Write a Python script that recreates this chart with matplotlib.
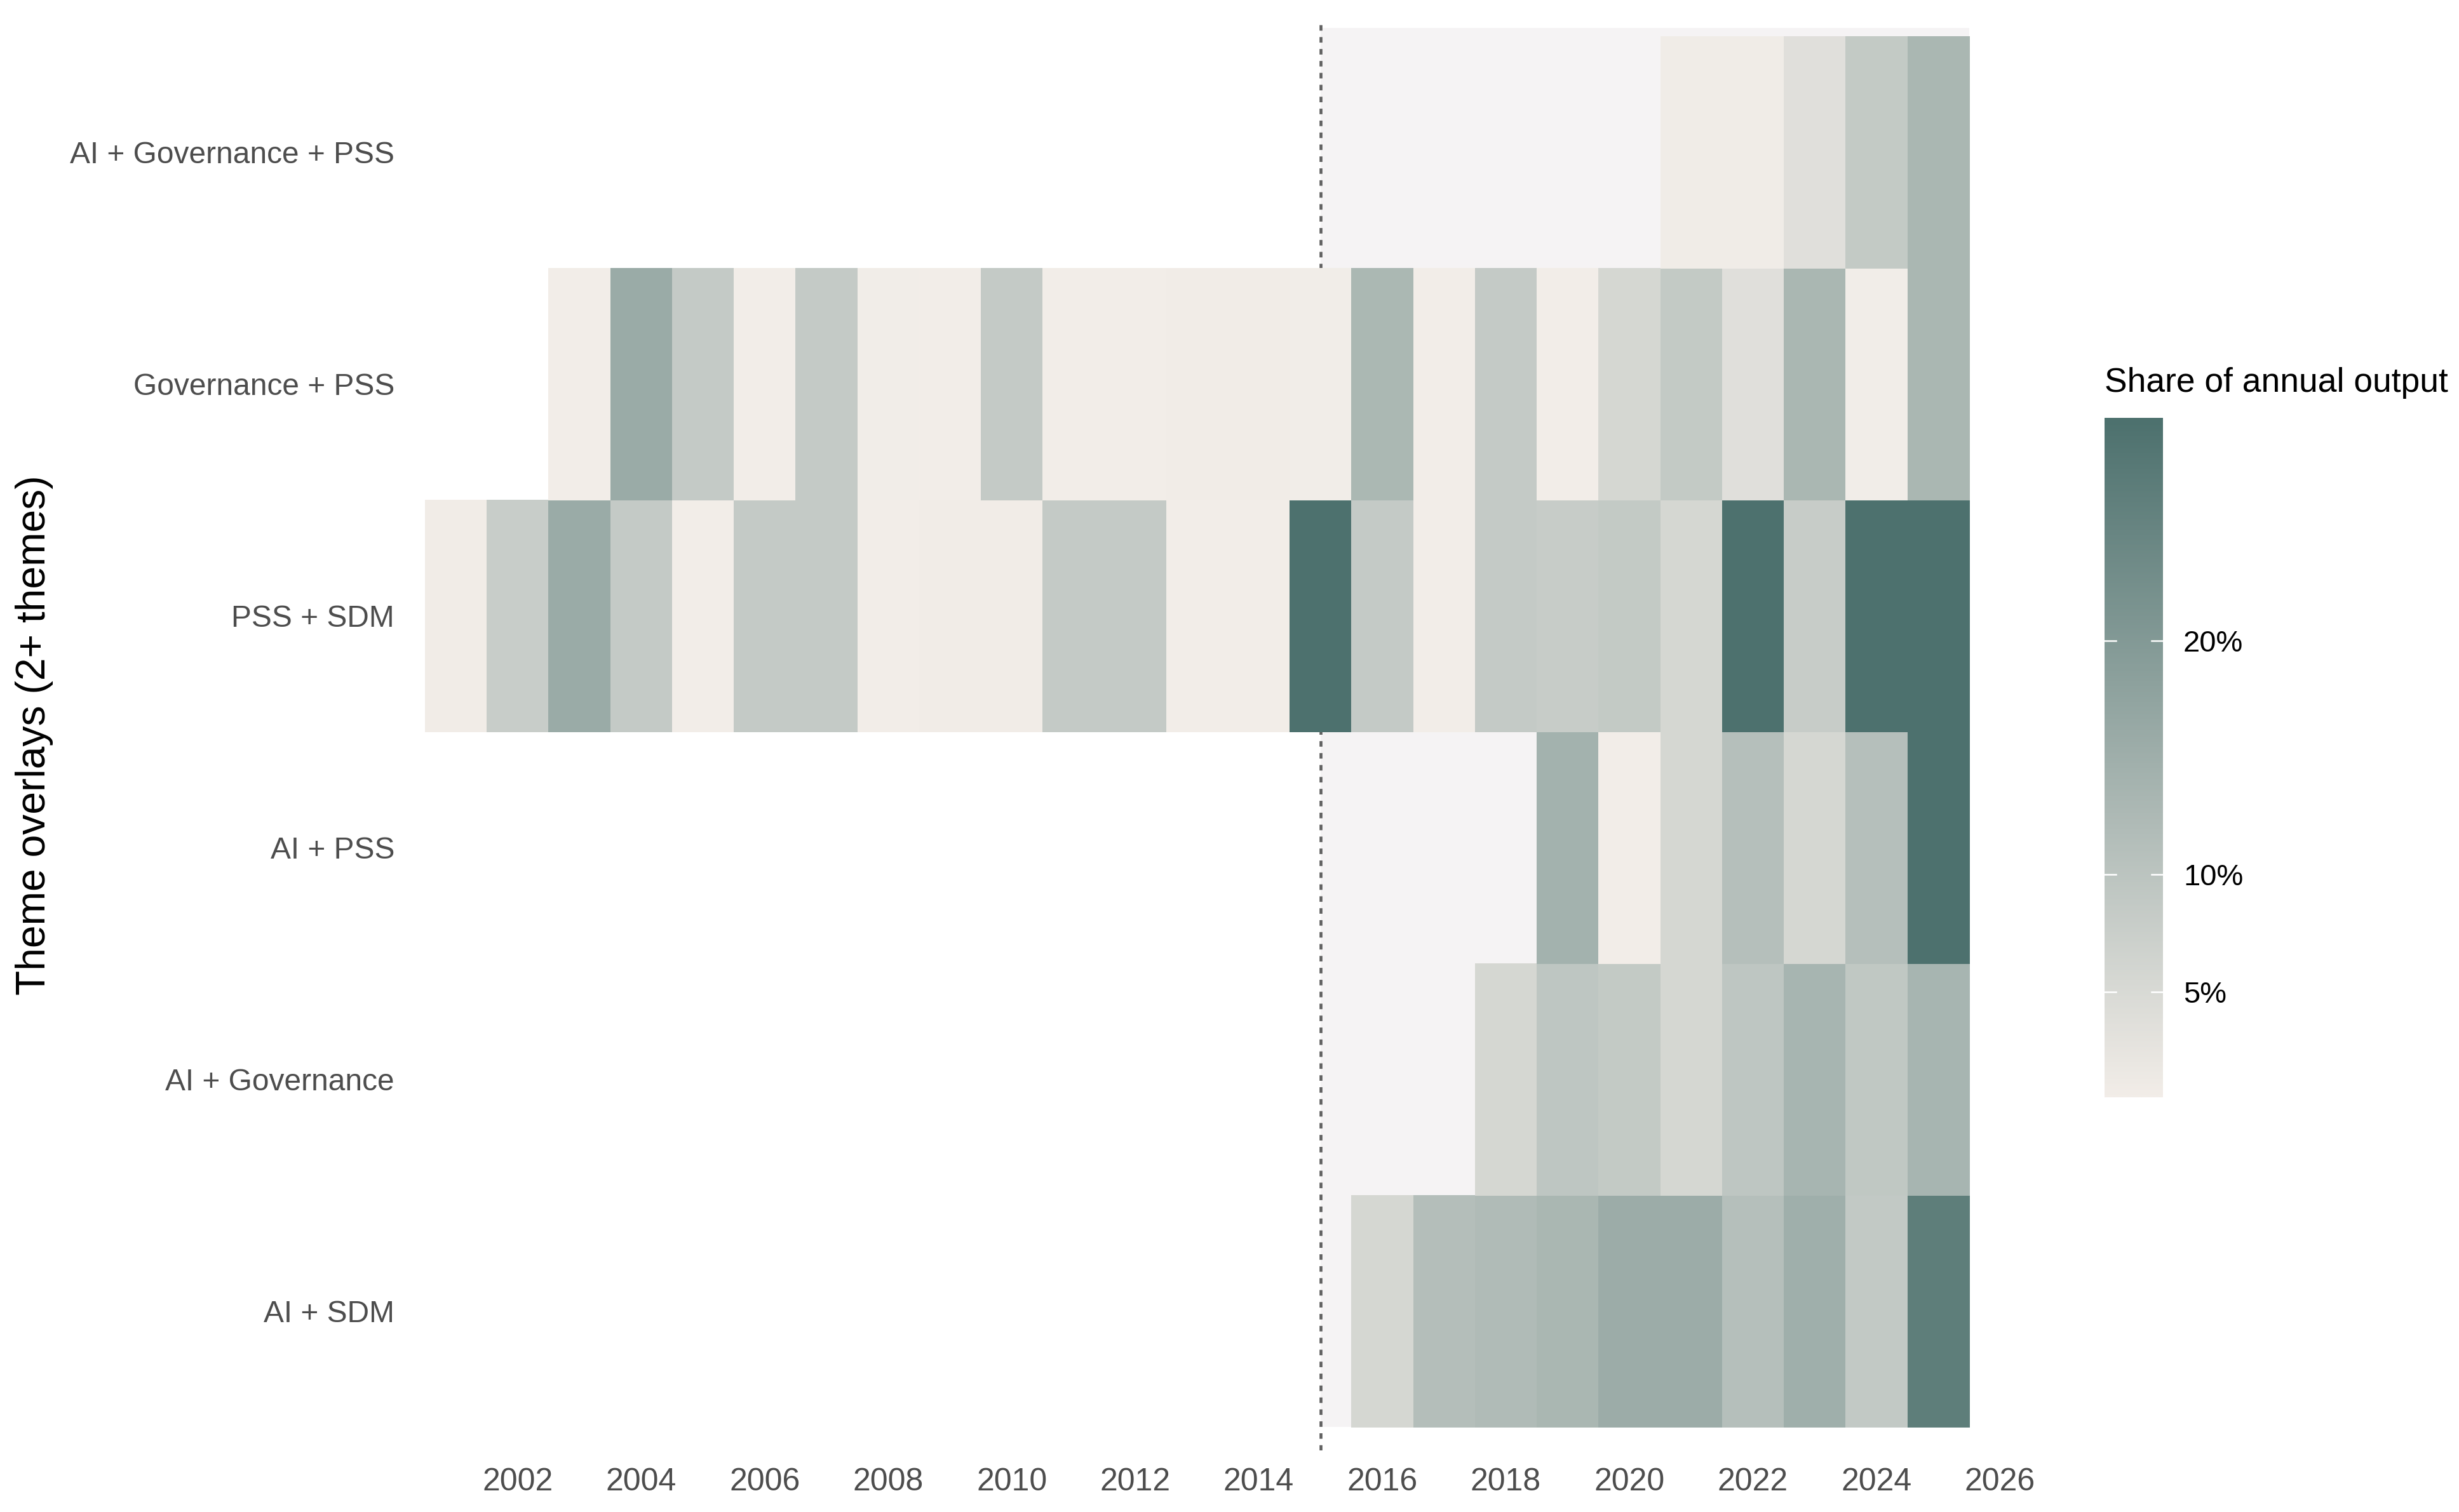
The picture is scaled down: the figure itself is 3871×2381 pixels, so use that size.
import numpy as np
import matplotlib
matplotlib.use("Agg")
import matplotlib.pyplot as plt
from matplotlib.colors import LinearSegmentedColormap
from matplotlib.patches import Rectangle

plt.rcParams['font.family'] = ['Liberation Sans', 'DejaVu Sans']

years = list(range(2001, 2026))
rows = ["AI + SDM", "AI + Governance", "AI + PSS", "PSS + SDM",
        "Governance + PSS", "AI + Governance + PSS"]
nan = np.nan
# share of annual output (%), NaN = no overlap recorded
ai_sdm = [nan]*15 + [5.6, 11.4, 12.1, 13.3, 15.6, 15.6, 11.2, 15.1, 8.9, 26.5]
ai_gov = [nan]*17 + [5.6, 9.6, 8.8, 5.6, 9.6, 13.7, 9.3, 13.7]
ai_pss = [nan]*18 + [14.4, 0.6, 5.6, 11.2, 5.6, 11.2, 29.5]
pss_sdm = [0.8, 7.9, 16.0, 8.6, 0.6, 8.6, 8.6, 0.6, 0.8, 0.8, 8.6, 8.6, 0.6, 0.6,
           29.5, 8.6, 0.6, 8.6, 8.1, 8.8, 5.6, 29.5, 8.1, 29.5, 29.5]
gov_pss = [nan, nan, 0.6, 16.0, 8.6, 0.6, 8.6, 0.7, 0.6, 8.6, 0.6, 0.6, 0.8, 0.8,
           0.7, 13.0, 0.6, 8.6, 0.6, 5.6, 8.8, 3.7, 13.3, 0.7, 13.2]
ai_gov_pss = [nan]*20 + [0.85, 0.85, 3.7, 8.8, 13.2]

series = [ai_sdm, ai_gov, ai_pss, pss_sdm, gov_pss, ai_gov_pss]
x_ticks = list(range(2002, 2027, 2))
cbar_ticks = [5, 10, 20]
vmin, vmax = 0.5, 29.5
cutoff_year = 2015

W, H = 3871, 2381
fig = plt.figure(figsize=(W/300, H/300), dpi=300)

ax = fig.add_axes([669/W, 1-2284/H, (3197-669)/W, (2284-32)/H])
cmap = LinearSegmentedColormap.from_list("sh", ["#f2ede8", "#4d716e"])

data = np.ma.masked_invalid(np.array(series, dtype=float))
x_edges = np.arange(years[0]-0.5, years[-1]+1.0, 1.0)
y_edges = np.arange(-0.5, len(rows), 1.0)

ax.add_patch(Rectangle((cutoff_year, -0.5), years[-1]+0.5-cutoff_year, 6.036,
                       facecolor="#f5f3f4", edgecolor="none", zorder=0))
ax.axvline(cutoff_year, color="#5f5f5f", lw=1.1, dashes=(1.9, 2.2), zorder=1)
mesh = ax.pcolormesh(x_edges, y_edges, data, cmap=cmap, vmin=vmin, vmax=vmax,
                     zorder=2, edgecolors="face", linewidth=0.2)

ax.set_xlim(2000.5, 2026.5)
ax.set_ylim(-0.601, 5.568)
ax.set_xticks(x_ticks)
ax.set_xticklabels([str(t) for t in x_ticks])
ax.set_yticks(range(len(rows)))
ax.set_yticklabels(rows)
ax.tick_params(axis='x', length=0, pad=6.5, labelsize=12, labelcolor="#4d4d4d")
ax.tick_params(axis='y', length=0, pad=11.5, labelsize=11.5, labelcolor="#4d4d4d")
for s in ax.spines.values():
    s.set_visible(False)

fig.text(54/W, 1-1158/H, "Theme overlays (2+ themes)", rotation=90,
         ha="center", va="center", fontsize=15.4, color="black")

cax = fig.add_axes([3313/W, 1-1728/H, (3405-3313)/W, (1728-658)/H])
grad = np.linspace(vmin, vmax, 400).reshape(-1, 1)
cax.imshow(grad, aspect="auto", cmap=cmap, vmin=vmin, vmax=vmax, origin="lower",
           extent=[0, 1, vmin, vmax])
cax.set_xlim(0, 1)
cax.set_ylim(vmin, vmax)
for t in cbar_ticks:
    cax.plot([0, 0.2], [t, t], color="white", lw=0.6)
    cax.plot([0.8, 1], [t, t], color="white", lw=0.6)
cax.set_xticks([])
cax.yaxis.tick_right()
cax.set_yticks(cbar_ticks)
cax.set_yticklabels([f"{t}%" for t in cbar_ticks])
cax.tick_params(axis='y', length=0, pad=7.7, labelsize=11.3, labelcolor="black")
for s in cax.spines.values():
    s.set_visible(False)
fig.text(3313/W, 1-617/H, "Share of annual output", ha="left", va="baseline",
         fontsize=12.8, color="black")

fig.savefig("out.png", dpi=300, facecolor="white")
